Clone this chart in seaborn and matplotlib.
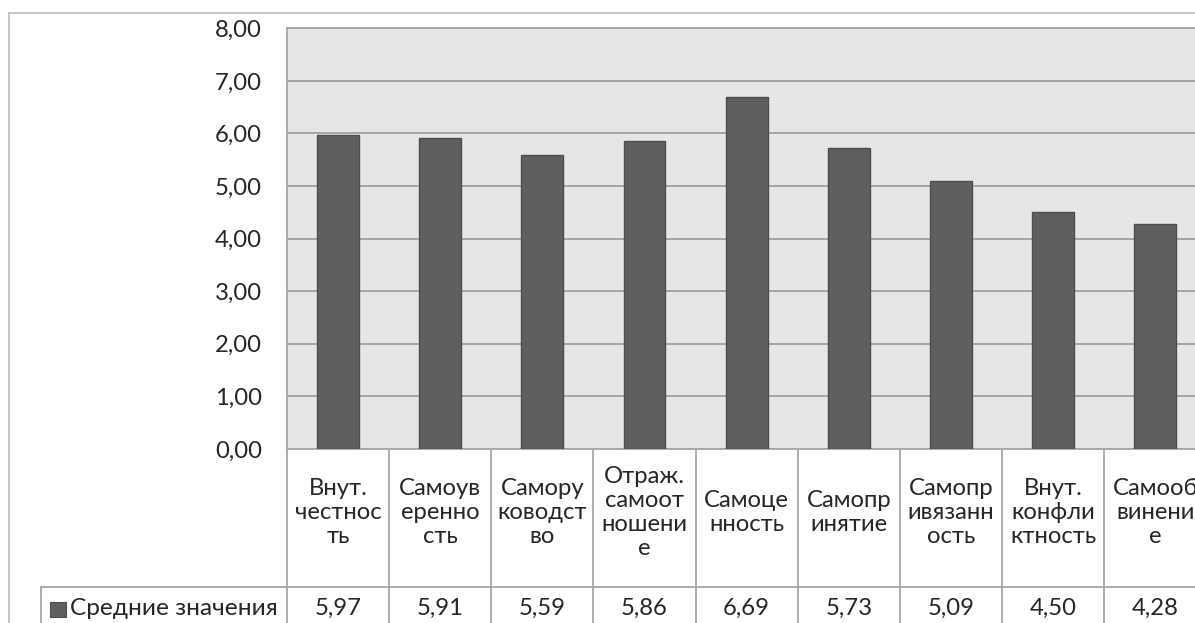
import matplotlib
matplotlib.use("Agg")
import matplotlib.pyplot as plt
import seaborn as sns
import pandas as pd
from matplotlib.lines import Line2D
from matplotlib.patches import Rectangle
from matplotlib.ticker import FuncFormatter

# ---- data ----
categories = ["Внут. честность", "Самоуверенность", "Саморуководство",
              "Отраж. самоотношение", "Самоценность", "Самопринятие",
              "Самопривязанность", "Внут. конфликтность", "Самообвинение"]
category_labels = ["Внут.\nчестнос\nть", "Самоув\nеренно\nсть", "Самору\nководст\nво",
                   "Отраж.\nсамоот\nношени\nе", "Самоце\nнность", "Самопр\nинятие",
                   "Самопр\nивязанн\nость", "Внут.\nконфли\nктность", "Самооб\nвинени\nе"]
values = [5.97, 5.91, 5.59, 5.86, 6.69, 5.73, 5.09, 4.50, 4.28]
series_name = "Средние значения"
y_ticks = [0, 1, 2, 3, 4, 5, 6, 7, 8]

sns.set_theme(style="white")
plt.rcParams['font.family'] = ['Lato', 'DejaVu Sans']

FS = 17.2
W, H = 1195, 623
fig = plt.figure(figsize=(W / 100, H / 100), dpi=100)

def fx(px):
    return px / W

def fy(py):
    return 1 - py / H

left_px, right_px, top_px, bot_px = 287, 1206.4, 28.3, 449
ax = fig.add_axes([fx(left_px), fy(bot_px), fx(right_px - left_px), (bot_px - top_px) / H])

df = pd.DataFrame({"cat": categories, "val": values})
bar_color = "#5F5F5F"
sns.barplot(data=df, x="cat", y="val", color=bar_color, saturation=1, width=0.41,
            edgecolor="#4D4D4D", linewidth=1.0, ax=ax, zorder=3)

ax.set_facecolor("#E6E6E6")
ax.set_xlim(-0.5, len(categories) - 0.5)
ax.set_ylim(0, 8)
ax.set_yticks(y_ticks)
ax.yaxis.set_major_formatter(FuncFormatter(lambda v, p: f"{v:.2f}".replace(".", ",")))
ax.tick_params(axis='y', length=0, pad=18, labelsize=FS, labelcolor="#262626")
ax.set_xticks([])
ax.set_xlabel("")
ax.set_ylabel("")
ax.grid(axis='y', color="#A0A0A0", linewidth=1.3, zorder=1)
ax.set_axisbelow(True)
for s in ["left", "top", "bottom"]:
    ax.spines[s].set_color("#A6A6A6")
    ax.spines[s].set_linewidth(1.3)
ax.spines["right"].set_visible(False)

line_col = "#A6A6A6"
tx = ax.get_xaxis_transform()
px_per_axfrac = bot_px - top_px
def ay(py):
    return (bot_px - py) / px_per_axfrac

# table vertical lines at category boundaries
for k in range(len(categories) + 1):
    ax.add_line(Line2D([k - 0.5, k - 0.5], [0, ay(700)], transform=tx, color=line_col,
                       lw=1.3, clip_on=False))
# row separator line
row_y = 587
fig.add_artist(Line2D([fx(40.7), fx(right_px)], [fy(row_y), fy(row_y)], color=line_col, lw=1.3))
fig.add_artist(Line2D([fx(40.7), fx(40.7)], [fy(row_y), fy(700)], color=line_col, lw=1.3))

# outer chart border
border_col = "#C0C0C0"
fig.add_artist(Line2D([fx(9.3), fx(9.3)], [fy(13), fy(700)], color=border_col, lw=1.3))
fig.add_artist(Line2D([fx(9.3), fx(W + 10)], [fy(13), fy(13)], color=border_col, lw=1.3))

# category header text and values
txt_col = "#262626"
for i, (lab, v) in enumerate(zip(category_labels, values)):
    ax.text(i, ay(512.5), lab, transform=tx, ha='center', va='center', fontsize=FS,
            color=txt_col, linespacing=1.19, clip_on=False)
    ax.text(i, ay(608.3), f"{v:.2f}".replace(".", ","), transform=tx, ha='center',
            va='center', fontsize=FS, color=txt_col, clip_on=False)

# legend key in the table
fig.add_artist(Rectangle((fx(50), fy(616.7)), fx(15.7), (616.7 - 601.7) / H,
                         facecolor=bar_color, edgecolor="#4D4D4D", lw=0.8))
fig.text(fx(70), fy(608.3), series_name, ha='left', va='center', fontsize=FS + 0.4, color=txt_col)

fig.savefig("out.png", dpi=100)
